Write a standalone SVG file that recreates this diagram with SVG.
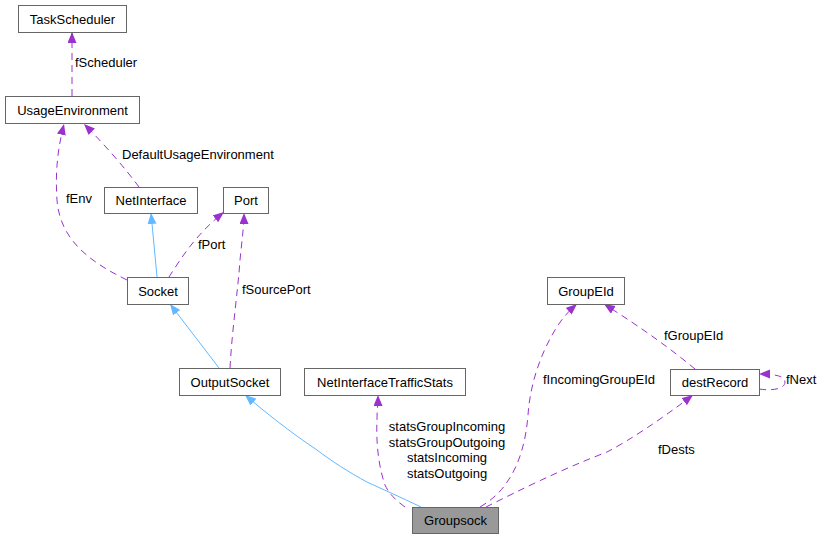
<svg xmlns="http://www.w3.org/2000/svg" width="823" height="539" viewBox="0 0 823 539">
<style>
text{font-family:"Liberation Sans",Arial,sans-serif;font-size:13px;fill:#000}
.n rect{fill:#fff;stroke:#666;stroke-width:1}
.n text{text-anchor:middle}
.r{fill:none;stroke:#9a32cd;stroke-width:1;stroke-dasharray:7,5;marker-end:url(#ap)}
.i{fill:none;stroke:#63b8ff;stroke-width:1;marker-end:url(#ab)}
.lbl{text-anchor:start}
.c{text-anchor:middle}
</style>
<defs>
<marker id="ap" markerUnits="userSpaceOnUse" markerWidth="12" markerHeight="10" refX="11" refY="4.5" orient="auto">
<path d="M0,0 L11,4.5 L0,9 z" fill="#9a32cd" stroke="none"/>
</marker>
<marker id="ab" markerUnits="userSpaceOnUse" markerWidth="12" markerHeight="10" refX="11" refY="4.5" orient="auto">
<path d="M0,0 L11,4.5 L0,9 z" fill="#63b8ff" stroke="none"/>
</marker>
</defs>
<g id="edges">
<path class="r" d="M72,96 L72,32"/>
<path class="r" d="M139,187 C125,168 105,145 84,124"/>
<path class="r" d="M127,280 C90,262 60,240 57,200 C55,170 58,148 64,124"/>
<path class="i" d="M157,277 L151,213"/>
<path class="r" d="M169,277 C180,260 195,235 224,212"/>
<path class="r" d="M230,368 C232,330 238,290 240,260 C242,240 244,225 244,213"/>
<path class="i" d="M219,368 L170,304"/>
<path class="i" d="M421,507 C400,497 380,488 367,482 C350,473 330,460 317,450 C290,432 265,412 245,395"/>
<path class="r" d="M405,507 C395,500 388,492 385,485 C378,465 376,440 377,420 C377,410 378,402 378,395"/>
<path class="r" d="M480,507 C492,500 500,492 505,485 C520,465 526,440 528,415 C530,385 540,355 555,330 C562,318 570,310 577,304"/>
<path class="r" d="M486,507 C520,490 560,470 607,452 C630,440 660,420 693,395"/>
<path class="r" d="M695,369 C672,350 645,330 604,304"/>
<path class="r" d="M759,389 C772,391 785,389 785,382 C785,376 775,374 759,374"/>
</g>
<g id="TaskScheduler" class="n"><rect x="18.5" y="5.5" width="108" height="27"/><text x="72.5" y="23.5">TaskScheduler</text></g>
<g id="UsageEnvironment" class="n"><rect x="5.5" y="96.5" width="134" height="27"/><text x="72.5" y="114.5">UsageEnvironment</text></g>
<g id="NetInterface" class="n"><rect x="104.5" y="187.5" width="93" height="26"/><text x="151" y="205">NetInterface</text></g>
<g id="Port" class="n"><rect x="223.5" y="187.5" width="45" height="26"/><text x="246" y="205">Port</text></g>
<g id="Socket" class="n"><rect x="127.5" y="277.5" width="61" height="27"/><text x="158" y="295.5">Socket</text></g>
<g id="OutputSocket" class="n"><rect x="179.5" y="368.5" width="101" height="27"/><text x="230" y="386.5">OutputSocket</text></g>
<g id="NetInterfaceTrafficStats" class="n"><rect x="304.5" y="368.5" width="161" height="27"/><text x="385" y="386.5">NetInterfaceTrafficStats</text></g>
<g id="GroupEId" class="n"><rect x="547.5" y="277.5" width="77" height="27"/><text x="586" y="295.5">GroupEId</text></g>
<g id="destRecord" class="n"><rect x="670.5" y="369.5" width="89" height="26"/><text x="715" y="386.5">destRecord</text></g>
<g id="Groupsock" class="n"><rect x="412.5" y="507.5" width="86" height="26" style="fill:#999"/><text x="455.5" y="525">Groupsock</text></g>
<g id="labels">
<text class="lbl" x="75" y="67">fScheduler</text>
<text class="lbl" x="122" y="159">DefaultUsageEnvironment</text>
<text class="lbl" x="66" y="203">fEnv</text>
<text class="lbl" x="198" y="249">fPort</text>
<text class="lbl" x="242" y="294">fSourcePort</text>
<text class="c" x="447" y="431">statsGroupIncoming</text>
<text class="c" x="447" y="447">statsGroupOutgoing</text>
<text class="c" x="447" y="462">statsIncoming</text>
<text class="c" x="447" y="478">statsOutgoing</text>
<text class="lbl" x="543" y="384">fIncomingGroupEId</text>
<text class="lbl" x="664" y="340">fGroupEId</text>
<text class="lbl" x="786" y="384">fNext</text>
<text class="lbl" x="658" y="454">fDests</text>
</g>
</svg>
